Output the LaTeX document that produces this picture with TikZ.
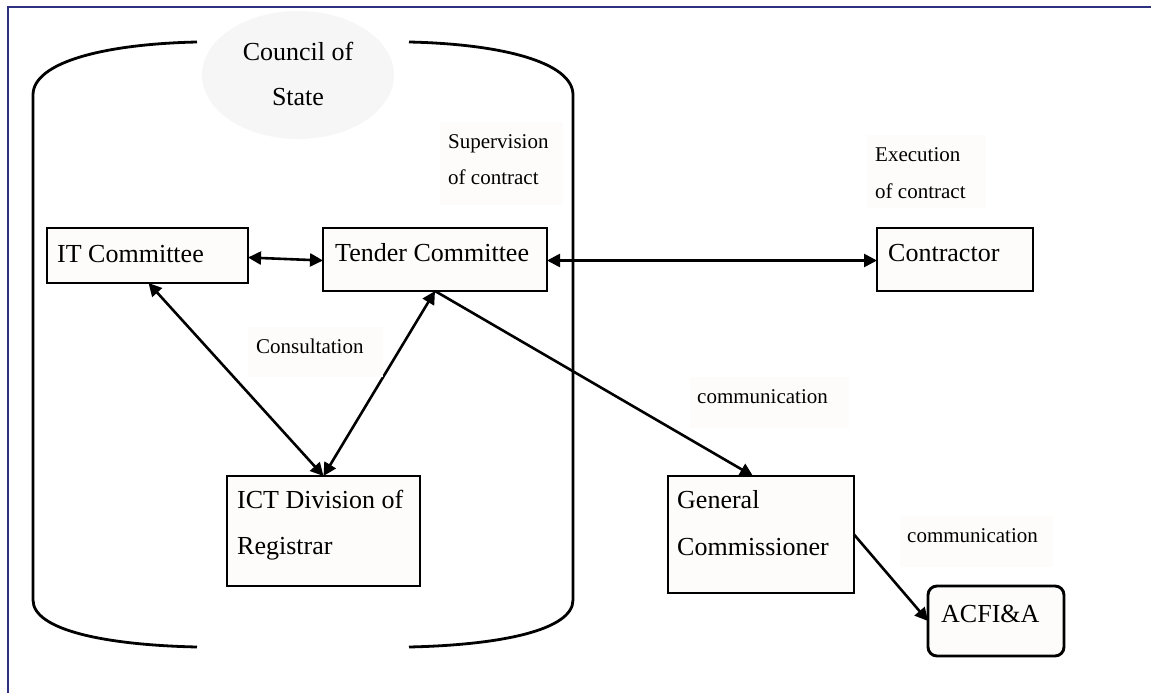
\documentclass[tikz,border=0pt]{standalone}
\usepackage{fontspec}
\setmainfont{Liberation Serif}
\usetikzlibrary{arrows.meta,calc,shapes.geometric}
\definecolor{framenavy}{HTML}{2E3180}
\definecolor{paper}{HTML}{FDFCFB}
\definecolor{haze}{HTML}{F6F6F6}
\begin{document}
\begin{tikzpicture}[x=1pt,y=-1pt,
  box/.style={draw=black, line width=2.9pt, fill=paper, inner sep=0pt, outer sep=0pt, anchor=north west},
  boxtext/.style={font=\fontsize{26}{30}\selectfont, anchor=base west, inner sep=0pt},
  lbl/.style={font=\fontsize{21}{25}\selectfont, anchor=base west, inner sep=0pt},
  lblbg/.style={fill=paper, draw=none},
  link/.style={line width=2.6pt, -{Triangle[length=13pt,width=13pt]}},
  bilink/.style={line width=2.6pt, {Triangle[length=13pt,width=13pt]}-{Triangle[length=13pt,width=13pt]}},
  wall/.style={line width=2.8pt}
]
\useasboundingbox (0,0) rectangle (1151,693);

% page frame
\draw[framenavy, line width=2pt] (8,693) -- (8,7) -- (1151,7);

% Council of State enclosure
\node[ellipse, fill=haze, draw=none, minimum width=192pt, minimum height=128pt, inner sep=0pt] (council) at (298,75) {};
\node[font=\fontsize{26}{30}\selectfont, anchor=base, inner sep=0pt] (councilA) at (298,61) {Council of};
\node[font=\fontsize{26}{30}\selectfont, anchor=base, inner sep=0pt] (councilB) at (298,105) {State};
\draw[wall] (197,42) .. controls (105,44) and (33,62) .. (33,95) -- (33,600)
            .. controls (33,630) and (105,645) .. (197,647);
\draw[wall] (409,42) .. controls (501,44) and (573,62) .. (573,95) -- (573,600)
            .. controls (573,630) and (501,645) .. (409,647);

% boxes
\node[box, minimum width=201pt, minimum height=55pt] (it) at (47,228) {};
\node[boxtext] (itT) at ($(it.north west)+(10,34)$) {IT Committee};

\node[box, minimum width=224pt, minimum height=63pt] (tender) at (323,228) {};
\node[boxtext] (tenderT) at ($(tender.north west)+(12,33)$) {Tender Committee};

\node[box, minimum width=156pt, minimum height=63pt] (contractor) at (877,228) {};
\node[boxtext] (contractorT) at ($(contractor.north west)+(11,33)$) {Contractor};

\node[box, minimum width=193pt, minimum height=110pt] (ict) at (227,476) {};
\node[boxtext] (ictA) at ($(ict.north west)+(10,32)$) {ICT Division of};
\node[boxtext] (ictB) at ($(ict.north west)+(10,78)$) {Registrar};

\node[box, minimum width=186pt, minimum height=117pt] (gc) at (668,476) {};
\node[boxtext] (gcA) at ($(gc.north west)+(9,32)$) {General};
\node[boxtext] (gcB) at ($(gc.north west)+(9,79)$) {Commissioner};

\node[box, rounded corners=9pt, minimum width=136pt, minimum height=70pt] (acfi) at (928,586) {};
\node[boxtext] (acfiT) at ($(acfi.north west)+(13,36)$) {ACFI\&A};

% connectors
\draw[bilink] ($(it.east)+(0,2)$) -- ($(tender.west)+(0,1)$);
\draw[bilink] ($(tender.east)+(0,1)$) -- ($(contractor.west)+(0,1)$);
\draw[bilink] ($(it.south)+(1,0)$) -- (ict.north);
\draw[bilink] (tender.south) -- (ict.north);
\draw[link] (tender.south) -- ($(gc.north)+(-8,0)$);
\draw[link] (gc.east) -- (acfi.west);

% labels
\fill[lblbg] (440,122) rectangle (563,205);
\node[lbl] (supA) at (448,148) {Supervision};
\node[lbl] (supB) at (448,184) {of contract};

\fill[lblbg] (867,135) rectangle (986,208);
\node[lbl] (exeA) at (875,161) {Execution};
\node[lbl] (exeB) at (875,198) {of contract};

\fill[lblbg] (248,327) rectangle (383,377);
\node[lbl] (consult) at (256,353) {Consultation};

\fill[lblbg] (690,377) rectangle (849,428);
\node[lbl] (commA) at (697,403) {communication};

\fill[lblbg] (900,516) rectangle (1053,567);
\node[lbl] (commB) at (907,542) {communication};
\end{tikzpicture}
\end{document}
